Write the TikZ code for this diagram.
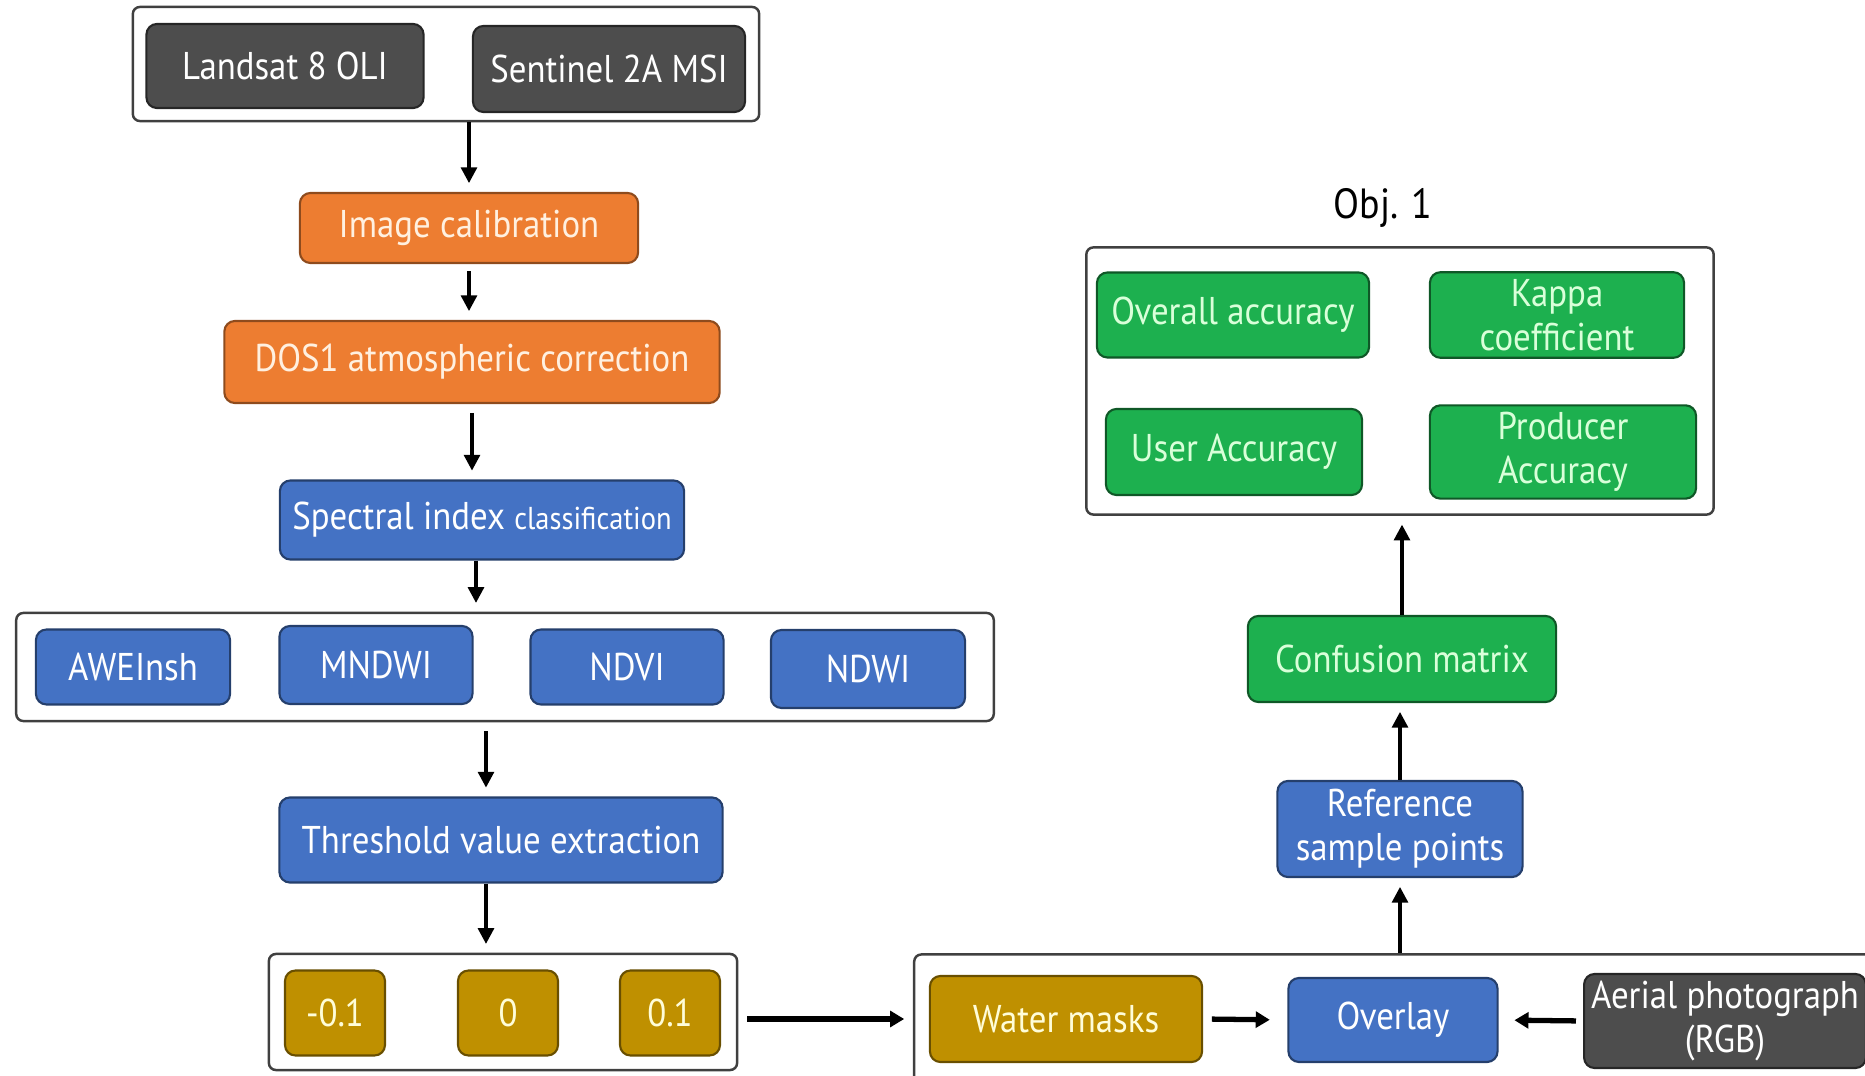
\documentclass[tikz,border=0pt]{standalone}
\usepackage{fontspec}
\setmainfont[FakeStretch=0.9]{PT Sans}
\usepackage{tikz}
\usetikzlibrary{arrows.meta,positioning}
\usepackage{xcolor}
\definecolor{darkc}{HTML}{4D4D4D}
\definecolor{calibc}{HTML}{ED7D31}
\definecolor{indexc}{HTML}{4472C4}
\definecolor{accc}{HTML}{1DB04F}
\definecolor{maskc}{HTML}{BF9000}
\tikzset{
  box/.style={rounded corners=3pt, line width=0.6pt, align=center, inner sep=2pt,
    font=\fontsize{11}{12.5}\selectfont},
  graybox/.style={box, fill=darkc, draw=black!85, text=white},
  calibbox/.style={box, fill=calibc, draw=calibc!60!black, text=white!88!orange},
  indexbox/.style={box, fill=indexc, draw=indexc!55!black, text=white},
  accbox/.style={box, fill=accc, draw=accc!50!black, text=white!85!green},
  maskbox/.style={box, fill=maskc, draw=maskc!55!black, text=white!85!yellow},
  frame/.style={draw=black!75, line width=0.7pt, rounded corners=2pt},
  flow/.style={-{Triangle[length=4.5pt,width=4.5pt]}, line width=1pt, shorten >=2.5pt},
  flowthick/.style={flow, line width=1.5pt, -{Triangle[length=4pt,width=4.5pt]}},
}

\begin{document}
\begin{tikzpicture}[x=0.01cm, y=-0.01cm]
  \clip (0,0) rectangle (1865,1076);
  % sources
  \node[frame, minimum width=6.26cm, minimum height=1.14cm] (srcframe) at (446,64) {};
  \node[graybox, minimum width=2.77cm, minimum height=0.84cm] (landsat) at (285,66) {Landsat 8 OLI};
  \node[graybox, minimum width=2.72cm, minimum height=0.86cm] (sentinel) at (609,69) {Sentinel 2A MSI};
  % preprocessing
  \node[calibbox, minimum width=3.38cm, minimum height=0.70cm] (calib) at (469,228) {Image calibration};
  \node[calibbox, minimum width=4.95cm, minimum height=0.82cm] (dos) at (472,362) {DOS1 atmospheric correction};
  \node[indexbox, minimum width=4.04cm, minimum height=0.79cm] (spectral) at (482,520)
    {Spectral index {\fontsize{9}{10}\selectfont classification}};
  % indices
  \node[frame, minimum width=9.77cm, minimum height=1.08cm] (idxframe) at (505,667) {};
  \node[indexbox, minimum width=1.94cm, minimum height=0.75cm] (aweinsh) at (133,667) {AWEInsh};
  \node[indexbox, minimum width=1.93cm, minimum height=0.78cm] (mndwi) at (376,665) {MNDWI};
  \node[indexbox, minimum width=1.93cm, minimum height=0.75cm] (ndvi) at (627,667) {NDVI};
  \node[indexbox, minimum width=1.94cm, minimum height=0.78cm] (ndwi) at (868,669) {NDWI};
  \node[indexbox, minimum width=4.43cm, minimum height=0.85cm] (threshold) at (501,840) {Threshold value extraction};
  % thresholds
  \node[frame, minimum width=4.68cm, minimum height=1.16cm] (thrframe) at (503,1012) {};
  \node[maskbox, minimum width=1.00cm, minimum height=0.85cm] (tneg) at (335,1013) {-0.1};
  \node[maskbox, minimum width=1.00cm, minimum height=0.85cm] (tzero) at (508,1013) {0};
  \node[maskbox, minimum width=1.00cm, minimum height=0.85cm] (tpos) at (670,1013) {0.1};
  % overlay
  \node[frame, minimum width=9.75cm, minimum height=1.45cm] (ovframe) at (1402,1027) {};
  \node[maskbox, minimum width=2.72cm, minimum height=0.86cm] (water) at (1066,1019) {Water masks};
  \node[indexbox, minimum width=2.09cm, minimum height=0.84cm] (overlay) at (1393,1020) {Overlay};
  \node[graybox, minimum width=2.76cm, minimum height=0.92cm] (aerial) at (1725,1021) {Aerial photograph\\(RGB)};
  % accuracy
  \node[indexbox, minimum width=2.45cm, minimum height=0.96cm] (refpts) at (1400,829) {Reference\\sample points};
  \node[accbox, minimum width=3.08cm, minimum height=0.86cm] (confusion) at (1402,659) {Confusion matrix};
  \node[frame, minimum width=6.27cm, minimum height=2.67cm] (objframe) at (1400,381) {};
  \node[font=\fontsize{12}{14}\selectfont] (objlabel) at (1383,208) {Obj. 1};
  \node[accbox, minimum width=2.72cm, minimum height=0.85cm] (overall) at (1233,315) {Overall accuracy};
  \node[accbox, minimum width=2.54cm, minimum height=0.85cm] (kappa) at (1557,315) {Kappa\\coefficient};
  \node[accbox, minimum width=2.56cm, minimum height=0.86cm] (useracc) at (1234,452) {User Accuracy};
  \node[accbox, minimum width=2.66cm, minimum height=0.86cm] (prodacc) at (1563,452) {Producer\\Accuracy};
  % connectors
  \draw[flow] (srcframe.south -| calib.north) -- (calib.north);
  \draw[flow, shorten <=2pt] (calib.south) -- (calib.south |- dos.north);
  \draw[flow, shorten <=2.5pt] (dos.south) -- (dos.south |- spectral.north);
  \draw[flow] ([xshift=-0.06cm]spectral.south) -- ([xshift=-0.06cm]spectral.south |- idxframe.north);
  \draw[flow, shorten <=2.5pt] ([xshift=-0.15cm]threshold.north |- idxframe.south) -- ([xshift=-0.15cm]threshold.north);
  \draw[flow] ([xshift=-0.15cm]threshold.south) -- ([xshift=-0.15cm]threshold.south |- thrframe.north);
  \draw[flowthick, shorten <=2.5pt] (thrframe.east |- water.west) -- (ovframe.west |- water.west);
  \draw[flowthick, shorten <=2.5pt, shorten >=5pt] (water.east) -- (overlay.west);
  \draw[flowthick, shorten <=2pt, shorten >=4.5pt] (aerial.west) -- (overlay.east);
  \draw[flow] (refpts.south |- ovframe.north) -- (refpts.south);
  \draw[flow] (refpts.north) -- (refpts.north |- confusion.south);
  \draw[flow] (confusion.north) -- (confusion.north |- objframe.south);
\end{tikzpicture}
\end{document}
